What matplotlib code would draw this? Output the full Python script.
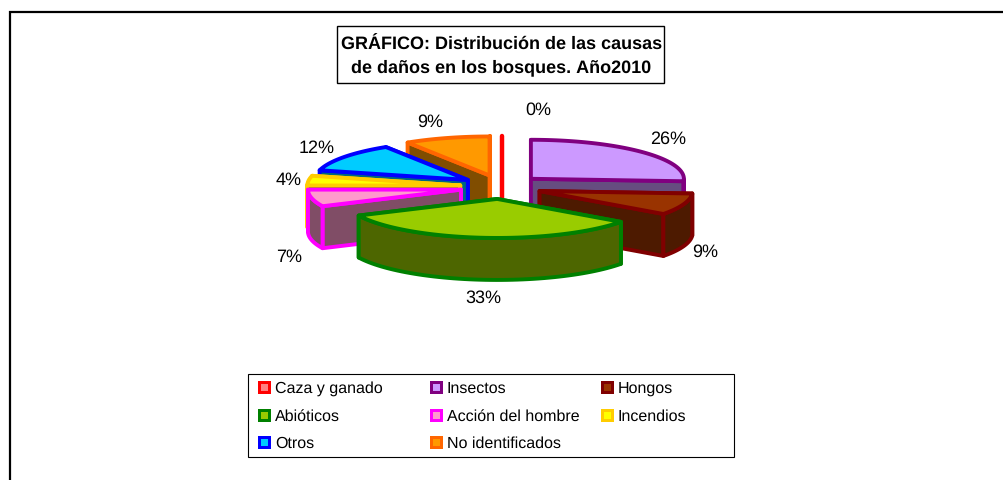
import matplotlib
matplotlib.use("Agg")
import matplotlib.pyplot as plt
from matplotlib.patches import Polygon, Rectangle
import numpy as np

plt.rcParams["font.family"] = ["Liberation Sans", "DejaVu Sans"]
plt.rcParams["text.hinting"] = "no_hinting"
plt.rcParams["text.hinting_factor"] = 1

categories = ["Caza y ganado", "Insectos", "Hongos", "Abióticos",
              "Acción del hombre", "Incendios", "Otros", "No identificados"]
values = [0, 26, 9, 33, 7, 4, 12, 9]
labels = ["0%", "26%", "9%", "33%", "7%", "4%", "12%", "9%"]
face_colors = ["#FF8080", "#CC99FF", "#993300", "#99CC00",
               "#FF99CC", "#FFFF00", "#00CCFF", "#FF9900"]
edge_colors = ["#FF0000", "#800080", "#800000", "#008000",
               "#FF00FF", "#FFCC00", "#0000FF", "#FF6600"]
title = "GRÁFICO: Distribución de las causas\nde daños en los bosques. Año2010"

# pie geometry, in pixels of the image
cx, cy = 501, 188
rx, ry = 153, 39
ex, ey = 41, 12   # how far the slices are pulled out
depth = 42
lw = 2.8

# draw back slices first
draw_order = [0, 7, 6, 5, 4, 1, 2, 3]
label_pos = [(538, 110), (668, 139), (705, 252), (483, 298),
             (289, 257), (289, 180), (317, 148), (430, 122)]

fig = plt.figure(figsize=(10.04, 4.81), dpi=100)
ax = fig.add_axes([0, 0, 1, 1])
ax.set_xlim(0, 1004)
ax.set_ylim(481, 0)
ax.axis("off")

# outer frame, only top and left are inside the picture
ax.plot([10, 10, 1004], [481, 13, 13], color="black", lw=1.6, solid_joinstyle="miter")


def point(a, apex):
    return apex[0] + rx * np.sin(a), apex[1] - ry * np.cos(a)


def darker(c):
    rgb = matplotlib.colors.to_rgb(c)
    return tuple(v * 0.5 for v in rgb)


cum = np.cumsum([0] + values)
total = sum(values)
for i in draw_order:
    a0 = 2 * np.pi * cum[i] / total
    a1 = 2 * np.pi * cum[i + 1] / total
    mid = (a0 + a1) / 2
    apex = (cx + ex * np.sin(mid), cy - ey * np.cos(mid))
    if values[i] == 0:
        # empty slice is only a thin line, it stays behind the other slices
        p = point(a0, apex)
        ax.plot([p[0] + 1, apex[0] + 1], [p[1], apex[1] + depth], color=edge_colors[i],
                lw=3.2, solid_capstyle="round", zorder=0.5)
        continue
    angles = np.linspace(a0, a1, 60)
    arc = [point(a, apex) for a in angles]
    wall = darker(face_colors[i])
    kw = dict(facecolor=wall, edgecolor=edge_colors[i], lw=lw, joinstyle="round")

    # radial walls, the one further back goes first
    ends = sorted([arc[0], arc[-1]], key=lambda q: q[1])
    for e in ends:
        ax.add_patch(Polygon([apex, e, (e[0], e[1] + depth), (apex[0], apex[1] + depth)], **kw))

    # outer wall, only the part that looks to the front
    front = [a for a in angles if np.pi / 2 <= a <= 3 * np.pi / 2]
    if len(front) > 1:
        top = [point(a, apex) for a in front]
        bottom = [(x, y + depth) for x, y in top[::-1]]
        ax.add_patch(Polygon(top + bottom, **kw))

    ax.add_patch(Polygon([apex] + arc, facecolor=face_colors[i],
                         edgecolor=edge_colors[i], lw=lw, joinstyle="round"))

for (x, y), s in zip(label_pos, labels):
    ax.text(x, y, s, fontsize=13.2, ha="center", va="center", color="black")

# title box
ax.add_patch(Rectangle((337, 27), 327, 57, facecolor="white", edgecolor="black", lw=1))
ax.text(501.5, 56.5, title, fontsize=13.2, fontweight="bold", ha="center", va="center",
        linespacing=1.45)

# legend box, three columns
ax.add_patch(Rectangle((248, 375), 486, 83, facecolor="white", edgecolor="black", lw=0.8))
col_x = [258, 430, 601]
row_y = [382, 409.5, 437]
for i, name in enumerate(categories):
    x = col_x[i % 3]
    y = row_y[i // 3]
    ax.add_patch(Rectangle((x, y), 13, 13, facecolor=edge_colors[i], edgecolor="none"))
    ax.add_patch(Rectangle((x + 3, y + 3), 7, 7, facecolor=face_colors[i], edgecolor="none"))
    ax.text(x + 17, y + 7, name, fontsize=11.4, ha="left", va="center", color="black")

fig.savefig("out.png", dpi=100)
